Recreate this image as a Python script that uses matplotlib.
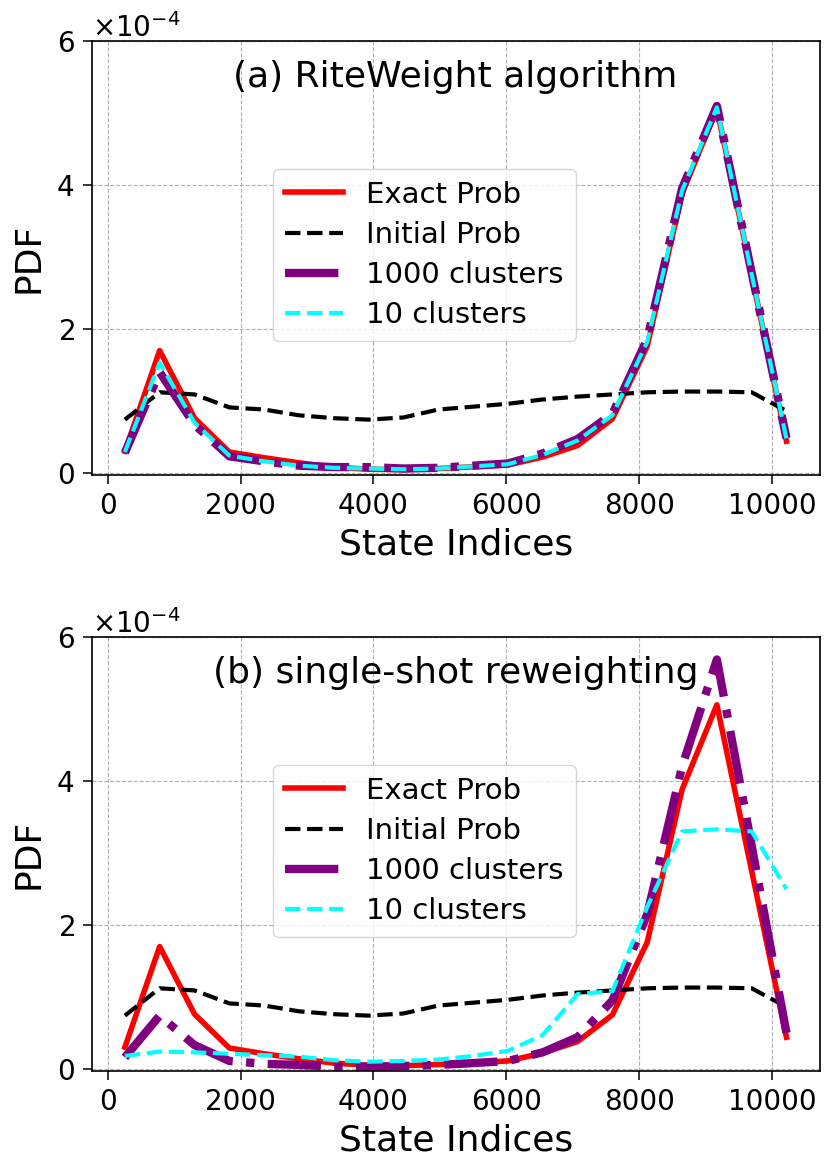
import matplotlib
matplotlib.use('Agg')
import matplotlib.pyplot as plt

# state index bins (bin centres)
states = [256, 780, 1305, 1829, 2354, 2878, 3403, 3927, 4452, 4976,
          5500, 6025, 6549, 7074, 7598, 8123, 8647, 9172, 9696, 10220]

# values in units of 1e-4
exact = [0.30, 1.70, 0.76, 0.29, 0.21, 0.14, 0.08, 0.05, 0.045, 0.06,
         0.085, 0.11, 0.22, 0.38, 0.75, 1.76, 3.88, 5.06, 2.75, 0.44]
initial = [0.74, 1.12, 1.09, 0.91, 0.88, 0.80, 0.76, 0.74, 0.77, 0.88,
           0.92, 0.96, 1.02, 1.06, 1.09, 1.12, 1.13, 1.13, 1.12, 0.86]

rw_1000 = [0.28, 1.40, 0.67, 0.23, 0.16, 0.10, 0.08, 0.08, 0.06, 0.07,
           0.10, 0.13, 0.27, 0.47, 0.82, 1.86, 3.95, 5.10, 2.78, 0.48]
rw_10 = [0.29, 1.53, 0.70, 0.24, 0.16, 0.10, 0.07, 0.06, 0.05, 0.06,
         0.09, 0.12, 0.25, 0.45, 0.80, 1.82, 3.92, 5.08, 2.76, 0.47]

ss_1000 = [0.16, 0.74, 0.33, 0.11, 0.07, 0.055, 0.03, 0.03, 0.04, 0.055,
           0.08, 0.11, 0.23, 0.44, 0.95, 2.15, 4.20, 5.69, 3.10, 0.50]
ss_10 = [0.18, 0.24, 0.23, 0.21, 0.19, 0.17, 0.12, 0.10, 0.11, 0.13,
         0.18, 0.25, 0.47, 1.04, 1.08, 2.25, 3.30, 3.33, 3.30, 2.50]

titles = ['(a) RiteWeight algorithm', '(b) single-shot reweighting']
labels = ['Exact Prob', 'Initial Prob', '1000 clusters', '10 clusters']


def Scale(vals):
    return [v * 1e-4 for v in vals]


def DrawPanel(ax, title, c1000, c10):
    ax.plot(states, Scale(exact), '-', color='red', lw=4, label=labels[0])
    ax.plot(states, Scale(initial), '--', color='black', lw=3, label=labels[1])
    ax.plot(states, Scale(c1000), '-.', color='purple', lw=6, label=labels[2])
    ax.plot(states, Scale(c10), '--', color='cyan', lw=3, label=labels[3])
    ax.set_ylim(-0.03e-4, 6e-4)
    ax.set_yticks([0, 2e-4, 4e-4, 6e-4])
    ax.set_xticks([0, 2000, 4000, 6000, 8000, 10000])
    ax.ticklabel_format(axis='y', style='sci', scilimits=(0, 0), useMathText=True)
    ax.yaxis.get_offset_text().set_fontsize(20)
    ax.tick_params(labelsize=20, length=6.5, width=1.1, pad=6)
    for sp in ax.spines.values():
        sp.set_linewidth(1.2)
    ax.grid(True, linestyle='--', color='#b0b0b0', lw=0.8)
    ax.set_xlabel('State Indices', fontsize=26, labelpad=5)
    ax.set_ylabel('PDF', fontsize=26, labelpad=8)
    ax.text(0.5, 0.917, title, transform=ax.transAxes, fontsize=26,
            ha='center', va='center')
    ax.legend(loc='center', bbox_to_anchor=(0.457, 0.507), fontsize=21,
              labelspacing=0.42)


fig = plt.figure(figsize=(8.27, 11.6), dpi=100)
ax1 = fig.add_axes([0.111, 0.5905, 0.880, 0.374])
ax2 = fig.add_axes([0.111, 0.0767, 0.880, 0.374])
DrawPanel(ax1, titles[0], rw_1000, rw_10)
DrawPanel(ax2, titles[1], ss_1000, ss_10)
fig.savefig('out.png', dpi=100)
